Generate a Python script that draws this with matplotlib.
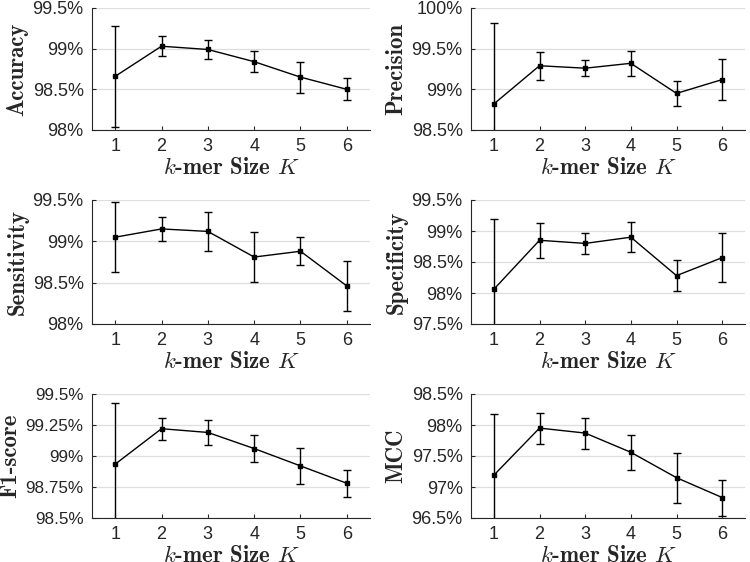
import os
import matplotlib
matplotlib.use("Agg")
import matplotlib.pyplot as plt
from matplotlib import font_manager as fm
from matplotlib.ticker import FuncFormatter

# ---- data ----
k_sizes = [1, 2, 3, 4, 5, 6]

accuracy = [98.66, 99.03, 98.99, 98.84, 98.65, 98.50]
accuracy_err = [0.62, 0.12, 0.12, 0.13, 0.19, 0.135]

precision = [98.82, 99.29, 99.26, 99.32, 98.95, 99.12]
precision_err = [1.00, 0.17, 0.10, 0.15, 0.15, 0.25]

sensitivity = [99.05, 99.15, 99.12, 98.81, 98.88, 98.46]
sensitivity_err = [0.42, 0.15, 0.24, 0.30, 0.17, 0.30]

specificity = [98.06, 98.85, 98.80, 98.90, 98.28, 98.57]
specificity_err = [1.14, 0.28, 0.165, 0.245, 0.245, 0.395]

f1_score = [98.934, 99.22, 99.19, 99.06, 98.92, 98.78]
f1_score_err = [0.49, 0.09, 0.10, 0.11, 0.145, 0.11]

mcc = [97.19, 97.95, 97.87, 97.56, 97.15, 96.83]
mcc_err = [0.99, 0.25, 0.25, 0.28, 0.40, 0.29]

metric_names = ["Accuracy", "Precision", "Sensitivity", "Specificity", "F1-score", "MCC"]
y_limits = [(98, 99.5), (98.5, 100), (98, 99.5), (97.5, 99.5), (98.5, 99.5), (96.5, 98.5)]
y_ticks = [
    [98, 98.5, 99, 99.5],
    [98.5, 99, 99.5, 100],
    [98, 98.5, 99, 99.5],
    [97.5, 98, 98.5, 99, 99.5],
    [98.5, 98.75, 99, 99.25, 99.5],
    [96.5, 97, 97.5, 98, 98.5],
]
series = [accuracy, precision, sensitivity, specificity, f1_score, mcc]
errors = [accuracy_err, precision_err, sensitivity_err, specificity_err, f1_score_err, mcc_err]
tick_sizes = [13, 13, 13, 13, 12.3, 13]

# ---- fonts ----
plt.rcParams["mathtext.fontset"] = "cm"
plt.rcParams["font.family"] = ["Liberation Sans", "DejaVu Sans"]
ttf_dir = os.path.join(matplotlib.get_data_path(), "fonts", "ttf")
label_fp = fm.FontProperties(fname=os.path.join(ttf_dir, "cmb10.ttf"), size=16.5)
label_fp.set_math_fontfamily("cm")

dark = "#262626"

fig = plt.figure(figsize=(7.5, 5.62), dpi=100)

col_left = [92 / 750, 471 / 750]
col_width = [278 / 750, 274 / 750]
row_bottom = [1 - 130 / 562, 1 - 324 / 562, 1 - 518 / 562]
row_height = [122 / 562, 124 / 562, 124 / 562]


def pct(v, pos):
    return f"{v:g}%"


for i in range(6):
    r, c = divmod(i, 2)
    ax = fig.add_axes([col_left[c], row_bottom[r], col_width[c], row_height[r]])
    ax.errorbar(k_sizes, series[i], yerr=errors[i], color="black", lw=1.0,
                elinewidth=1.0, capsize=3.2, capthick=1.0,
                marker="s", markersize=3.5, zorder=3)
    ax.set_xlim(0.5, 6.5)
    ax.set_ylim(*y_limits[i])
    ax.set_xticks(k_sizes)
    ax.set_yticks(y_ticks[i])
    ax.yaxis.set_major_formatter(FuncFormatter(pct))
    ax.grid(axis="y", color="#dedede", lw=0.9)
    ax.set_axisbelow(True)
    for s in ["top", "right"]:
        ax.spines[s].set_visible(False)
    for s in ["left", "bottom"]:
        ax.spines[s].set_color(dark)
        ax.spines[s].set_linewidth(0.8)
    ax.tick_params(direction="in", length=3, width=0.8, colors=dark,
                   labelcolor=dark, pad=6)
    ax.tick_params(axis="x", labelsize=13)
    ax.tick_params(axis="y", labelsize=tick_sizes[i])
    ax.set_ylabel(metric_names[i], fontproperties=label_fp, color=dark, labelpad=3)
    ax.set_xlabel(r"$k$-mer Size $K$", fontproperties=label_fp, color=dark, labelpad=1)

fig.savefig("out.png", dpi=100)
